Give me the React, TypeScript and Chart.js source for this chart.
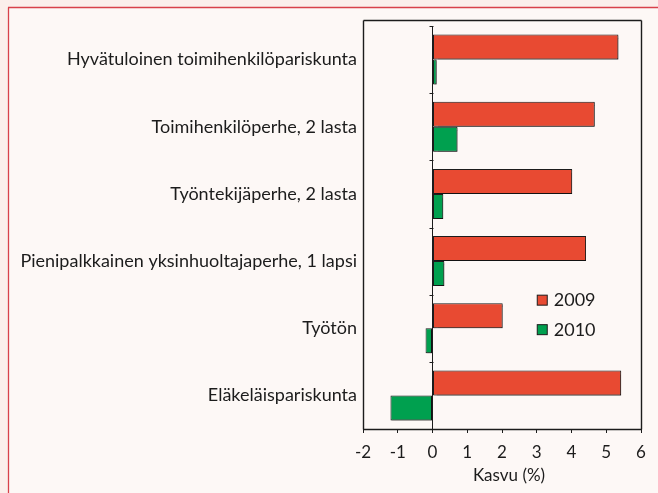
import React, { useEffect, useRef } from "react";
import { Chart, registerables } from "chart.js";

Chart.register(...registerables);

const categories = [
  "Hyvätuloinen toimihenkilöpariskunta",
  "Toimihenkilöperhe, 2 lasta",
  "Työntekijäperhe, 2 lasta",
  "Pienipalkkainen yksinhuoltajaperhe, 1 lapsi",
  "Työtön",
  "Eläkeläispariskunta",
];
const seriesLabels = ["2009", "2010"];
const values2009 = [5.35, 4.67, 4.02, 4.42, 2.02, 5.43];
const values2010 = [0.12, 0.72, 0.31, 0.34, -0.2, -1.21];
const xMin = -2;
const xMax = 6;
const axisTitle = "Kasvu (%)";

const RED = "#e84a32";
const GREEN = "#00a04f";
const INK = "#1c1c1c";
const FONT = "Lato";

function line(ctx: any, x1: number, y1: number, x2: number, y2: number) {
  ctx.beginPath();
  ctx.moveTo(x1, y1);
  ctx.lineTo(x2, y2);
  ctx.stroke();
}

const framePlugin = {
  id: "frame",
  beforeDraw(chart: any) {
    const { ctx, width, height } = chart;
    ctx.save();
    ctx.fillStyle = "#fbefeb";
    ctx.fillRect(0, 0, width, height);
    ctx.fillStyle = "#fdf8f6";
    ctx.fillRect(8, 7, width - 8, height - 7);
    ctx.strokeStyle = "#d8414a";
    ctx.lineWidth = 1.3;
    line(ctx, 8.5, height, 8.5, 7.5);
    line(ctx, 8, 7.5, width, 7.5);
    ctx.restore();
  },
  beforeDatasetsDraw(chart: any) {
    const ctx = chart.ctx;
    ctx.save();
    ctx.shadowColor = "rgba(0,0,0,0.35)";
    ctx.shadowOffsetX = 1.2;
    ctx.shadowOffsetY = 1.2;
    ctx.shadowBlur = 1;
  },
  afterDatasetsDraw(chart: any) {
    chart.ctx.restore();
  },
  afterDraw(chart: any) {
    const { ctx, chartArea } = chart;
    const x = chart.scales.x;
    const y = chart.scales.y;
    ctx.save();
    ctx.shadowColor = "rgba(0,0,0,0)";
    ctx.strokeStyle = INK;
    ctx.lineWidth = 1.4;
    const L = Math.round(chartArea.left) + 0.5;
    const R = Math.round(chartArea.right) + 0.5;
    const T = Math.round(chartArea.top) - 5.5;
    const B = Math.round(chartArea.bottom) + 0.5;
    line(ctx, L, T, R, T);
    line(ctx, R, T, R, B);
    line(ctx, L, T, L, B);
    line(ctx, L, B, R, B);
    ctx.lineWidth = 1;
    // category boundary ticks on zero line
    const x0 = Math.round(x.getPixelForValue(0)) + 0.5;
    const n = categories.length;
    const band = (y.bottom - y.top) / n;
    for (let i = 0; i <= n; i++) {
      const yy = Math.round(y.getPixelForValue(0) - band / 2 + i * band) + 0.5;
      line(ctx, x0 - 4, yy, x0, yy);
    }
    // axis title
    ctx.fillStyle = INK;
    ctx.font = `17px ${FONT}`;
    ctx.textAlign = "center";
    ctx.textBaseline = "middle";
    ctx.fillText(axisTitle, (x.left + x.right) / 2 + 7, x.bottom - 17);
    // legend
    const ds = chart.data.datasets;
    const lx = x.getPixelForValue(3.0);
    const ly0 = y.getPixelForValue(3.5) + 5;
    ds.forEach((d: any, i: number) => {
      const cy = ly0 + i * 29.5;
      ctx.fillStyle = d.backgroundColor;
      ctx.fillRect(lx + 0.5, cy - 4.5, 10, 10);
      ctx.strokeStyle = INK;
      ctx.strokeRect(lx + 0.5, cy - 4.5, 10, 10);
      ctx.fillStyle = INK;
      ctx.font = `18px ${FONT}`;
      ctx.textAlign = "left";
      ctx.fillText(d.label, lx + 17, cy + 1);
    });
    ctx.restore();
  },
};

export default function App() {
  const ref = useRef<HTMLCanvasElement | null>(null);
  useEffect(() => {
    if (!ref.current) return;
    const chart = new Chart(ref.current, {
      type: "bar",
      data: {
        labels: categories,
        datasets: [
          {
            label: seriesLabels[0],
            data: values2009,
            backgroundColor: RED,
            borderColor: INK,
            borderWidth: 1,
            borderSkipped: false,
            categoryPercentage: 0.745,
            barPercentage: 1,
          },
          {
            label: seriesLabels[1],
            data: values2010,
            backgroundColor: GREEN,
            borderColor: INK,
            borderWidth: 1,
            borderSkipped: false,
            categoryPercentage: 0.745,
            barPercentage: 1,
          },
        ],
      },
      options: {
        indexAxis: "y",
        responsive: false,
        animation: false,
        layout: { padding: { top: 26, right: 17, left: 0, bottom: 0 } },
        plugins: { legend: { display: false }, tooltip: { enabled: false }, title: { display: false } },
        scales: {
          x: {
            min: xMin,
            max: xMax,
            ticks: {
              stepSize: 1,
              color: INK,
              font: { family: FONT, size: 17 },
              padding: 9,
              maxRotation: 0,
            },
            grid: {
              color: (c: any) => (c.tick && c.tick.value === 0 ? INK : "rgba(0,0,0,0)"),
              tickColor: INK,
              tickLength: 4,
              lineWidth: 1,
            },
            border: { display: true, color: INK },
            afterFit: (s: any) => {
              s.height = 64;
            },
          },
          y: {
            type: "category",
            ticks: {
              color: INK,
              font: { family: FONT, size: 18 },
              padding: 6,
            },
            grid: { display: false, drawTicks: false },
            border: { display: false },
            afterFit: (s: any) => {
              s.width = 363;
            },
          },
        },
      },
      plugins: [framePlugin],
    } as any);
    return () => chart.destroy();
  }, []);
  return (
    <div style={{ position: "absolute", left: 0, top: 0, width: 658, height: 493 }}>
      <canvas ref={ref} width={658} height={493} style={{ display: "block" }} />
    </div>
  );
}
